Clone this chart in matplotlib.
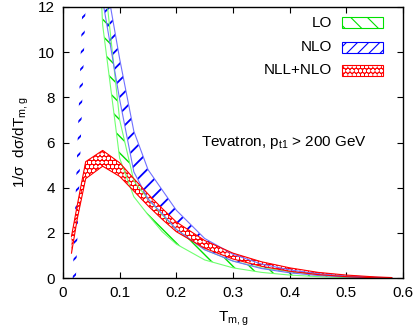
import matplotlib
matplotlib.use('Agg')
import matplotlib.pyplot as plt
from matplotlib.patches import Rectangle

plt.rcParams['font.family'] = ['Liberation Sans', 'DejaVu Sans']
plt.rcParams['mathtext.fontset'] = 'custom'
plt.rcParams['mathtext.rm'] = 'Liberation Sans'
plt.rcParams['mathtext.it'] = 'Liberation Sans:italic'

# ---- data ----
T_lo = [0.04, 0.07, 0.10, 0.125, 0.15, 0.175, 0.20, 0.25, 0.30, 0.35, 0.40, 0.45, 0.50, 0.55, 0.58]
lo_low = [26.0, 11.2, 5.3, 3.6, 2.8, 2.05, 1.5, 0.8, 0.45, 0.25, 0.13, 0.06, 0.02, 0.0, 0.0]
lo_high = [30.0, 14.0, 7.0, 4.3, 3.5, 2.8, 2.15, 1.25, 0.75, 0.45, 0.28, 0.15, 0.07, 0.02, 0.0]

T_nlo = [0.015, 0.04, 0.07, 0.10, 0.125, 0.15, 0.175, 0.20, 0.25, 0.30, 0.35, 0.40, 0.45, 0.50, 0.55, 0.58]
nlo_low = [-5.5, 12.1, 12.3, 7.9, 4.7, 3.5, 2.85, 2.15, 1.25, 0.75, 0.42, 0.23, 0.11, 0.05, 0.01, 0.0]
nlo_high = [-1.5, 16.1, 14.0, 9.7, 6.5, 4.8, 3.9, 3.0, 1.75, 1.05, 0.62, 0.36, 0.19, 0.09, 0.03, 0.01]

T_nll = [0.015, 0.025, 0.04, 0.07, 0.10, 0.125, 0.15, 0.175, 0.20, 0.25, 0.30, 0.35, 0.40, 0.45, 0.50, 0.55, 0.58]
nll_low = [1.1, 2.6, 4.4, 4.95, 4.5, 3.85, 3.2, 2.6, 2.05, 1.32, 0.84, 0.52, 0.3, 0.15, 0.06, 0.01, 0.0]
nll_high = [1.85, 3.2, 5.15, 5.65, 5.1, 4.4, 3.72, 3.08, 2.48, 1.66, 1.1, 0.72, 0.45, 0.25, 0.13, 0.05, 0.02]

labels = ['LO', 'NLO', 'NLL+NLO']
xticks = [0, 0.1, 0.2, 0.3, 0.4, 0.5, 0.6]
yticks = [0, 2, 4, 6, 8, 10, 12]

GREEN = '#00e000'
GREEN_EDGE = '#70ff70'
BLUE = '#0000ff'
BLUE_EDGE = '#7070ff'
RED = '#ff0000'

fig = plt.figure(figsize=(4.15, 3.28), dpi=100)
ax = fig.add_axes([63/415, 50/328, 340/415, 271/328])

# LO band
plt.rcParams['hatch.linewidth'] = 1.0
ax.fill_between(T_lo, lo_low, lo_high, facecolor='none', edgecolor=GREEN,
                hatch='\\\\', linewidth=0)
ax.plot(T_lo, lo_low, color=GREEN_EDGE, lw=0.8)
ax.plot(T_lo, lo_high, color=GREEN_EDGE, lw=0.8)

# NLO band
plt.rcParams['hatch.linewidth'] = 1.3
ax.fill_between(T_nlo, nlo_low, nlo_high, facecolor='none', edgecolor=BLUE,
                hatch='//', linewidth=0)
ax.plot(T_nlo[2:], nlo_low[2:], color=BLUE_EDGE, lw=0.8)
ax.plot(T_nlo[2:], nlo_high[2:], color=BLUE_EDGE, lw=0.8)

# NLL+NLO band
plt.rcParams['hatch.linewidth'] = 1.0
ax.fill_between(T_nll, nll_low, nll_high, facecolor=RED, edgecolor='white',
                hatch='oooo', linewidth=0)
ax.plot(T_nll, nll_low, color=RED, lw=0.8)
ax.plot(T_nll, nll_high, color=RED, lw=0.8)

ax.set_xlim(0, 0.6)
ax.set_ylim(0, 12)
ax.set_xticks(xticks)
ax.set_xticklabels(['0', '0.1', '0.2', '0.3', '0.4', '0.5', '0.6'])
ax.set_yticks(yticks)
ax.tick_params(direction='in', length=4.5, width=0.8, top=True, right=True,
               labelsize=11, pad=6, colors='black')
for s in ax.spines.values():
    s.set_linewidth(1.0)

ax.set_xlabel(r'T$_{\mathrm{m,g}}$', fontsize=11, labelpad=7)
ax.set_ylabel(r'1/$\mathrm{\sigma}$  d$\mathrm{\sigma}$/dT$_{\mathrm{m,g}}$', fontsize=11, labelpad=5)

ax.text(0.537, 6.0, r'Tevatron, p$_{\mathrm{t1}}$ > 200 GeV', fontsize=11,
        ha='right', va='center')

# legend (gnuplot style)
rows = [0.941, 0.852, 0.7675]
bx0, bw, bh = 0.8206, 0.1206, 0.0406
plt.rcParams['hatch.linewidth'] = 0.8
ax.add_patch(Rectangle((bx0, rows[0]-bh/2), bw, bh, transform=ax.transAxes,
                       facecolor='none', edgecolor=GREEN, hatch='\\\\', lw=0.8))
ax.add_patch(Rectangle((bx0, rows[1]-bh/2), bw, bh, transform=ax.transAxes,
                       facecolor='none', edgecolor=BLUE, hatch='///', lw=0.8))
plt.rcParams['hatch.linewidth'] = 1.0
ax.add_patch(Rectangle((bx0, rows[2]-bh/2), bw, bh, transform=ax.transAxes,
                       facecolor=RED, edgecolor='white', hatch='oooo', lw=0))
ax.add_patch(Rectangle((bx0, rows[2]-bh/2), bw, bh, transform=ax.transAxes,
                       facecolor='none', edgecolor=RED, lw=0.8))
for lab, r in zip(labels, rows):
    ax.text(0.791, r, lab, transform=ax.transAxes, ha='right', va='center', fontsize=11)

fig.savefig('out.png', dpi=100)
